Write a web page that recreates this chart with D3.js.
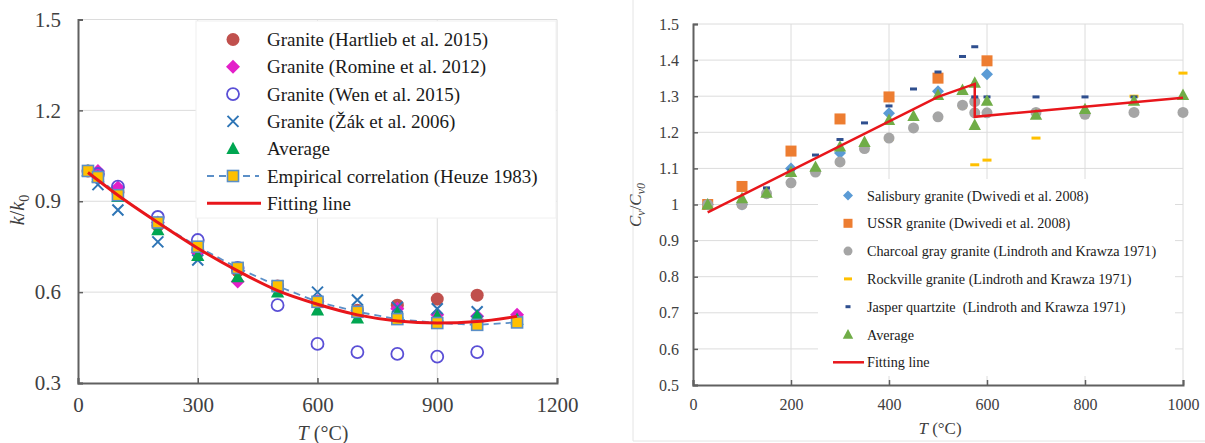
<!DOCTYPE html>
<html>
<head>
<meta charset="utf-8">
<script src="https://cdn.jsdelivr.net/npm/d3@7"></script>
<style>
  body { margin: 0; background: #fff; }
  svg text { font-family: 'Liberation Serif', 'Times New Roman', serif; fill: #404040; }
</style>
</head>
<body>
<svg id="vis" width="1205" height="443"></svg>
<script>
// ---- left panel: k/k0 ----
var hartlieb = [[25,1.0],[100,0.93],[200,0.82],[300,0.74],[400,0.67],[500,0.62],[600,0.57],[700,0.54],[800,0.557],[900,0.577],[1000,0.59]];
var romine = [[50,1.0],[100,0.945],[200,0.83],[300,0.73],[400,0.635],[500,0.61],[600,0.57],[700,0.53],[800,0.545],[900,0.525],[1000,0.52],[1100,0.525]];
var wen = [[50,0.99],[100,0.948],[200,0.848],[300,0.772],[400,0.68],[500,0.557],[600,0.429],[700,0.402],[800,0.396],[900,0.387],[1000,0.402]];
var zak = [[50,0.955],[100,0.871],[200,0.766],[300,0.706],[500,0.62],[600,0.6],[700,0.574],[800,0.55],[900,0.545],[1000,0.535]];
var averageL = [[25,1.0],[50,0.98],[100,0.915],[200,0.805],[300,0.72],[400,0.65],[500,0.6],[600,0.54],[700,0.514],[800,0.53],[900,0.52],[1000,0.52],[1100,0.51]];
var empirical = [[25,1.0],[50,0.98],[100,0.92],[200,0.83],[300,0.75],[400,0.68],[500,0.62],[600,0.568],[700,0.535],[800,0.511],[900,0.498],[1000,0.492],[1100,0.5]];
var fitL = [[25,0.995],[100,0.92],[200,0.83],[300,0.745],[400,0.67],[500,0.605],[600,0.56],[700,0.525],[800,0.505],[900,0.498],[1000,0.503],[1100,0.52]];
var xTicksL = [0,300,600,900,1200];
var yTicksL = [0.3,0.6,0.9,1.2,1.5];

// ---- right panel: Cv/Cv0 ----
var salisbury = [[30,1.0],[100,1.0],[200,1.1],[300,1.143],[400,1.253],[500,1.314],[600,1.361]];
var ussr = [[30,1.0],[100,1.05],[200,1.148],[300,1.237],[400,1.298],[500,1.35],[600,1.398]];
var charcoal = [[30,1.0],[100,1.0],[150,1.03],[200,1.06],[250,1.09],[300,1.118],[350,1.155],[400,1.184],[450,1.212],[500,1.243],[550,1.275],[575,1.285],[575,1.254],[600,1.254],[700,1.255],[800,1.25],[900,1.255],[1000,1.255]];
var rockville = [[30,0.995],[100,0.995],[150,1.03],[200,1.06],[250,1.09],[300,1.115],[350,1.15],[400,1.18],[450,1.21],[500,1.24],[550,1.27],[575,1.28],[575,1.11],[600,1.123],[700,1.184],[800,1.248],[900,1.3],[1000,1.364]];
var jasper = [[100,1.01],[150,1.046],[200,1.095],[250,1.137],[300,1.18],[350,1.226],[400,1.273],[450,1.32],[500,1.367],[550,1.41],[575,1.437],[575,1.298],[600,1.298],[700,1.298],[800,1.298],[900,1.298]];
var averageR = [[30,1.0],[100,1.017],[150,1.032],[200,1.09],[250,1.104],[300,1.16],[350,1.173],[400,1.234],[450,1.245],[500,1.303],[550,1.317],[575,1.337],[575,1.22],[600,1.287],[700,1.248],[800,1.264],[900,1.287],[1000,1.303]];
var fitR = [[30,0.978],[500,1.298],[575,1.334],[575,1.243],[1000,1.296]];
var xTicksR = [0,200,400,600,800,1000];
var yTicksR = [0.5,0.6,0.7,0.8,0.9,1,1.1,1.2,1.3,1.4,1.5];

var SERIF = "'Liberation Serif', 'Times New Roman', serif";
var svg = d3.select("#vis");
var scales = {
  xL: d3.scaleLinear().domain([0,1200]).range([78,557]),
  yL: d3.scaleLinear().domain([0.3,1.5]).range([383,19.5]),
  xR: d3.scaleLinear().domain([0,1000]).range([693,1183]),
  yR: d3.scaleLinear().domain([0.5,1.5]).range([385,24])
};

function grid(x, y, xt, yt) {
  var g = svg.append("g").attr("class", "grid");
  g.selectAll(".gv").data(xt.slice(1)).enter().append("line")
    .attr("x1", function(d) { return x(d); }).attr("x2", function(d) { return x(d); })
    .attr("y1", y.range()[0]).attr("y2", y.range()[1])
    .attr("stroke", "#dcdcdc").attr("stroke-width", 1);
  g.selectAll(".gh").data(yt.slice(1)).enter().append("line")
    .attr("x1", x.range()[0]).attr("x2", x.range()[1])
    .attr("y1", function(d) { return y(d); }).attr("y2", function(d) { return y(d); })
    .attr("stroke", "#dcdcdc").attr("stroke-width", 1);
}

function axes(x, y, xt, yt, fs, fmt, padY) {
  var xa = d3.axisBottom(x).tickValues(xt).tickSize(-5).tickPadding(14).tickFormat(d3.format("d"));
  var ya = d3.axisLeft(y).tickValues(yt).tickSize(-5).tickPadding(padY).tickFormat(fmt);
  var gx = svg.append("g").attr("transform", "translate(0," + y.range()[0] + ")").call(xa);
  var gy = svg.append("g").attr("transform", "translate(" + x.range()[0] + ",0)").call(ya);
  [gx, gy].forEach(function(g) {
    g.attr("font-family", null);
    g.select(".domain").attr("stroke", "#606060").attr("stroke-width", 2);
    g.selectAll(".tick line").attr("stroke", "#606060").attr("stroke-width", 1.5);
    g.selectAll(".tick text").style("font-size", fs + "px").style("fill", "#404040")
      .style("font-family", SERIF);
  });
}

// symbols
function marker(g, type, cx, cy, s, col) {
  var sel;
  if (type === "circle") {
    sel = g.append("circle").attr("cx", cx).attr("cy", cy).attr("r", s).attr("fill", col);
  } else if (type === "ocircle") {
    sel = g.append("circle").attr("cx", cx).attr("cy", cy).attr("r", s).attr("fill", "none")
      .attr("stroke", col).attr("stroke-width", 1.8);
  } else if (type === "diamond") {
    sel = g.append("path").attr("d", "M" + cx + "," + (cy - s) + "L" + (cx + s) + "," + cy + "L" + cx + "," + (cy + s) + "L" + (cx - s) + "," + cy + "Z").attr("fill", col);
  } else if (type === "x") {
    sel = g.append("path").attr("d", "M" + (cx - s) + "," + (cy - s) + "L" + (cx + s) + "," + (cy + s) + "M" + (cx - s) + "," + (cy + s) + "L" + (cx + s) + "," + (cy - s))
      .attr("stroke", col).attr("stroke-width", 2).attr("fill", "none");
  } else if (type === "tri") {
    sel = g.append("path").attr("d", "M" + cx + "," + (cy - s) + "L" + (cx + s * 0.95) + "," + (cy + s * 0.75) + "L" + (cx - s * 0.95) + "," + (cy + s * 0.75) + "Z").attr("fill", col);
  } else if (type === "square") {
    sel = g.append("rect").attr("x", cx - s).attr("y", cy - s).attr("width", 2 * s).attr("height", 2 * s).attr("fill", col);
  } else if (type === "esquare") {
    sel = g.append("rect").attr("x", cx - s).attr("y", cy - s).attr("width", 2 * s).attr("height", 2 * s)
      .attr("fill", "#FFC000").attr("stroke", col).attr("stroke-width", 1.6);
  } else if (type === "dash") {
    sel = g.append("rect").attr("x", cx - s).attr("y", cy - 1.5).attr("width", 2 * s).attr("height", 3).attr("fill", col);
  }
  return sel;
}

function scatter(data, x, y, type, s, col) {
  var g = svg.append("g");
  data.forEach(function(d) { marker(g, type, x(d[0]), y(d[1]), s, col); });
}

// ---------------- left chart ----------------
grid(scales.xL, scales.yL, xTicksL, yTicksL);

// legend box (drawn before data so it masks grid lines)
svg.append("rect").attr("x", 196).attr("y", 21).attr("width", 360).attr("height", 197)
  .attr("fill", "#fff").attr("stroke", "#f0f0f0");

axes(scales.xL, scales.yL, xTicksL, yTicksL, 21, d3.format(".1f"), 17);

var colL = {
  hartlieb: "#C0504D", romine: "#E31FC9", wen: "#5A4FD6", zak: "#2E75B6",
  avg: "#00A651", emp: "#5B8FC7", fit: "#E8161B"
};

scatter(hartlieb, scales.xL, scales.yL, "circle", 6.5, colL.hartlieb);
scatter(romine, scales.xL, scales.yL, "diamond", 7, colL.romine);
scatter(wen, scales.xL, scales.yL, "ocircle", 6, colL.wen);
scatter(zak, scales.xL, scales.yL, "x", 5.5, colL.zak);
scatter(averageL, scales.xL, scales.yL, "tri", 7, colL.avg);

var lineL = d3.line().x(function(d) { return scales.xL(d[0]); }).y(function(d) { return scales.yL(d[1]); });
svg.append("path").datum(empirical).attr("d", lineL).attr("fill", "none")
  .attr("stroke", colL.emp).attr("stroke-width", 1.8).attr("stroke-dasharray", "7,5");
scatter(empirical, scales.xL, scales.yL, "esquare", 5.5, colL.emp);
svg.append("path").datum(fitL).attr("d", lineL.curve(d3.curveMonotoneX)).attr("fill", "none")
  .attr("stroke", colL.fit).attr("stroke-width", 3);

// legend left
var legL = [
  {t: "Granite (Hartlieb et al. 2015)", m: "circle", s: 6.5, c: colL.hartlieb},
  {t: "Granite (Romine et al. 2012)", m: "diamond", s: 7, c: colL.romine},
  {t: "Granite (Wen et al. 2015)", m: "ocircle", s: 6, c: colL.wen},
  {t: "Granite (\u017D\u00E1k et al. 2006)", m: "x", s: 5.5, c: colL.zak},
  {t: "Average", m: "tri", s: 7, c: colL.avg},
  {t: "Empirical correlation (Heuze 1983)", m: "esquare", s: 5.5, c: colL.emp, line: "dash"},
  {t: "Fitting line", m: null, c: colL.fit, line: "solid"}
];
var lg = svg.append("g");
legL.forEach(function(d, i) {
  var cy = 39.5 + i * 27.3;
  if (d.line === "dash") {
    lg.append("line").attr("x1", 207).attr("x2", 259).attr("y1", cy).attr("y2", cy)
      .attr("stroke", d.c).attr("stroke-width", 1.8).attr("stroke-dasharray", "7,5");
  } else if (d.line === "solid") {
    lg.append("line").attr("x1", 207).attr("x2", 261).attr("y1", cy).attr("y2", cy)
      .attr("stroke", d.c).attr("stroke-width", 3);
  }
  if (d.m) marker(lg, d.m, 233, cy, d.s, d.c);
  lg.append("text").attr("x", 267).attr("y", cy + 6.5).style("font-family", SERIF)
    .style("font-size", "19px").style("fill", "#1a1a1a").text(d.t);
});

// axis titles left
svg.append("text").attr("x", 323).attr("y", 440).attr("text-anchor", "middle").style("font-size", "20px")
  .style("font-family", SERIF)
  .html('<tspan font-style="italic">T</tspan> (\u00B0C)');
svg.append("text").attr("transform", "translate(24,210) rotate(-90)").attr("text-anchor", "middle").style("font-size", "20px")
  .style("font-family", SERIF)
  .html('<tspan font-style="italic">k</tspan>/<tspan font-style="italic">k</tspan><tspan font-size="14px" dy="5">0</tspan>');

// ---------------- right chart ----------------
// faint chart frame
svg.append("line").attr("x1", 633).attr("x2", 633).attr("y1", 0).attr("y2", 441).attr("stroke", "#e4e4e4");
svg.append("line").attr("x1", 633).attr("x2", 1205).attr("y1", 441).attr("y2", 441).attr("stroke", "#e4e4e4");

grid(scales.xR, scales.yR, xTicksR, yTicksR);
svg.append("rect").attr("x", 818).attr("y", 179).attr("width", 357).attr("height", 197)
  .attr("fill", "#fff");
axes(scales.xR, scales.yR, xTicksR, yTicksR, 16, function(d) { return d3.format("")(+d.toFixed(1)); }, 14);

var colR = {
  sal: "#5B9BD5", ussr: "#ED7D31", charcoal: "#A5A5A5", rock: "#FFC000",
  jasper: "#2F4F8F", avg: "#70AD47", fit: "#E8161B"
};

scatter(salisbury, scales.xR, scales.yR, "diamond", 6, colR.sal);
scatter(ussr, scales.xR, scales.yR, "square", 5.5, colR.ussr);
scatter(rockville, scales.xR, scales.yR, "dash", 4.5, colR.rock);
scatter(charcoal, scales.xR, scales.yR, "circle", 5.5, colR.charcoal);
scatter(jasper, scales.xR, scales.yR, "dash", 3.5, colR.jasper);
scatter(averageR, scales.xR, scales.yR, "tri", 6.5, colR.avg);

var lineR = d3.line().x(function(d) { return scales.xR(d[0]); }).y(function(d) { return scales.yR(d[1]); });
svg.append("path").datum(fitR).attr("d", lineR).attr("fill", "none")
  .attr("stroke", colR.fit).attr("stroke-width", 2.5);

var legR = [
  {t: "Salisbury granite (Dwivedi et al. 2008)", m: "diamond", s: 5, c: colR.sal},
  {t: "USSR granite (Dwivedi et al. 2008)", m: "square", s: 4.5, c: colR.ussr},
  {t: "Charcoal gray granite (Lindroth and Krawza 1971)", m: "circle", s: 4.5, c: colR.charcoal},
  {t: "Rockville granite (Lindroth and Krawza 1971)", m: "dash", s: 4, c: colR.rock},
  {t: "Jasper quartzite  (Lindroth and Krawza 1971)", m: "dash", s: 2.5, c: colR.jasper},
  {t: "Average", m: "tri", s: 5.5, c: colR.avg},
  {t: "Fitting line", m: null, c: colR.fit, line: true}
];
var lgR = svg.append("g");
legR.forEach(function(d, i) {
  var cy = 195.5 + i * 27.8;
  if (d.line) {
    lgR.append("line").attr("x1", 833).attr("x2", 864).attr("y1", cy).attr("y2", cy)
      .attr("stroke", d.c).attr("stroke-width", 2.5);
  }
  if (d.m) marker(lgR, d.m, 848, cy, d.s, d.c);
  lgR.append("text").attr("x", 867).attr("y", cy + 5).style("font-family", SERIF)
    .style("font-size", "14.2px").style("fill", "#1a1a1a")
    .style("white-space", "pre").attr("xml:space", "preserve").text(d.t);
});

svg.append("text").attr("x", 940).attr("y", 434).attr("text-anchor", "middle").style("font-size", "17px")
  .style("font-family", SERIF)
  .html('<tspan font-style="italic">T</tspan> (\u00B0C)');
svg.append("text").attr("transform", "translate(641,205) rotate(-90)").attr("text-anchor", "middle").style("font-size", "17px")
  .style("font-family", SERIF)
  .html('<tspan font-style="italic">C</tspan><tspan font-size="12px" dy="4" font-style="italic">v</tspan><tspan dy="-4">/</tspan><tspan font-style="italic">C</tspan><tspan font-size="12px" dy="4" font-style="italic">v0</tspan>');
</script>
</body>
</html>
